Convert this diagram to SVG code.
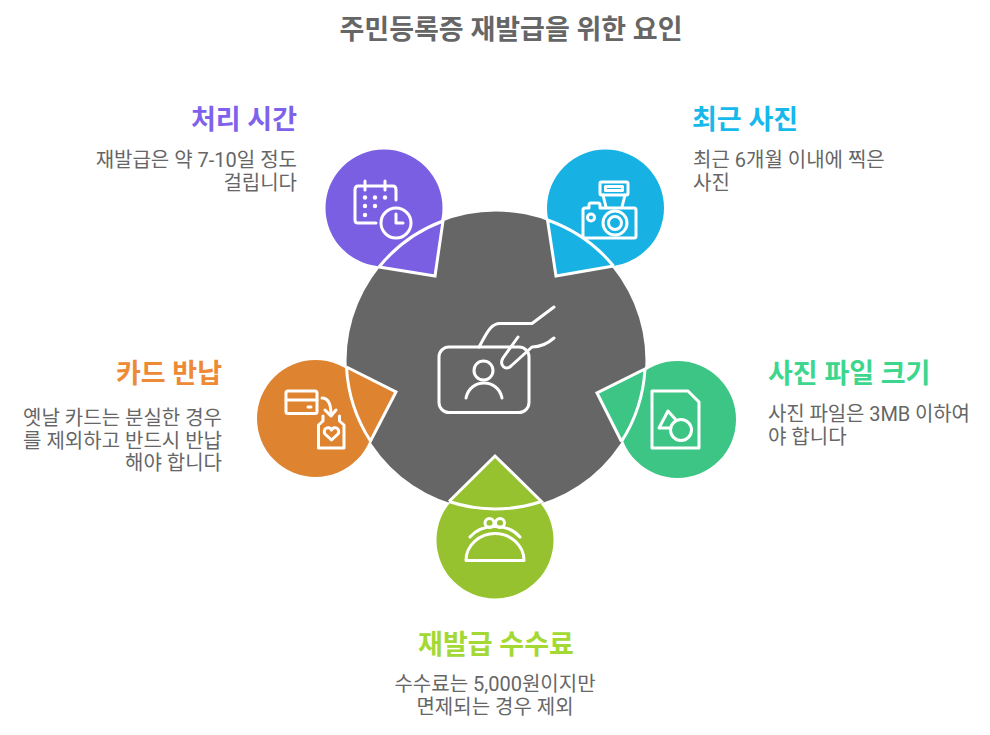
<svg xmlns="http://www.w3.org/2000/svg" width="990" height="735" viewBox="0 0 990 735">
<style>
text{font-family:"Roboto","Noto Sans CJK KR","Noto Sans",sans-serif}
.title{font-size:27px;font-weight:700;fill:#666}
.head{font-size:27px;font-weight:700}
.body{font-size:20px;fill:#666}
.s{text-anchor:start}.e{text-anchor:end}.m{text-anchor:middle}
.line{fill:none;stroke:#fff;stroke-width:3;stroke-linejoin:miter}
.ic{fill:none;stroke:#fff;stroke-width:3;stroke-linecap:round;stroke-linejoin:round}
.dot{fill:#fff}
</style>
<rect width="990" height="735" fill="#fff"/>
<text class="title m" x="511" y="39">주민등록증 재발급을 위한 요인</text>
<g id="center">
<circle cx="496" cy="361" r="149.500" fill="#666"/>
<g class="ic">
<rect x="439" y="347" width="90" height="65.500" rx="10"/>
<circle cx="483.500" cy="370.500" r="9.500"/>
<path d="M466 398C470 378 498 378 502 398"/>
<path d="M479 347C486 335 490 323.500 500 323.500H532L554 307"/>
<path d="M518 337L503 358C499 365 505 371 511 366L532 347C539 347 546 345 554 338"/>
</g>
</g>
<g id="node-time">
<circle cx="384" cy="208" r="58.500" fill="#7a5fe3"/>
<polygon points="443,221 435,277 379,267" fill="#7a5fe3"/>
<path class="line" d="M379 267L435 276L443 221A150 150 0 0 0 379 267"/>
<g class="ic">
<path d="M376 223H358Q355 223 355 220V190Q355 186 358 186H393Q396 186 396 190V200"/>
<path d="M365 181V190M385 181V190"/>
<circle cx="396" cy="223" r="15"/>
<path d="M396 214V223H403"/>
</g>
<g class="dot"><circle cx="365" cy="197.500" r="2.200"/><circle cx="375" cy="197.500" r="2.200"/><circle cx="385" cy="197.500" r="2.200"/><circle cx="365" cy="206" r="2.200"/><circle cx="375" cy="206" r="2.200"/><circle cx="365" cy="215" r="2.200"/></g>
<text class="head e" x="297" y="129" fill="#7e62ec">처리 시간</text>
<text class="body e" x="297" y="167">재발급은 약 7-10일 정도</text>
<text class="body e" x="297" y="190">걸립니다</text>
</g>
<g id="node-photo">
<circle cx="605.500" cy="208" r="58.500" fill="#17b1e4"/>
<polygon points="547.500,220 556,277 613.500,266" fill="#17b1e4"/>
<path class="line" d="M613.500 266L556 276L547.500 220A150 150 0 0 1 613.500 266"/>
<g class="ic">
<rect x="600" y="182" width="28" height="13" rx="1.500"/>
<rect x="605.500" y="186.500" width="17" height="4"/>
<path d="M603 195L606 207M625 195L622 207"/>
<path d="M584 238H634Q636 238 636 236V210Q636 208 634 208H600V205Q600 203 598 203H591Q589 203 589 205V208H585Q583 208 583 210V236Q583 238 584 238Z"/>
<circle cx="615" cy="223" r="12"/>
<circle cx="615" cy="223" r="6.500"/>
<circle cx="591" cy="217.500" r="3.500"/>
</g>
<text class="head s" x="692" y="129" fill="#17b8ec">최근 사진</text>
<text class="body s" x="693" y="167">최근 6개월 이내에 찍은</text>
<text class="body s" x="693" y="190">사진</text>
</g>
<g id="node-size">
<circle cx="677.500" cy="419.500" r="58.500" fill="#3dc585"/>
<polygon points="596,393 645,369 621.500,441.500" fill="#3dc585"/>
<path class="line" d="M621.500 441.500L597 393L645 369A150 150 0 0 1 621.500 441.500"/>
<g class="ic">
<path d="M652 391H688L699 402V448H652Z"/>
<path d="M671 428H659L668 411L676 420"/>
<circle cx="681" cy="430" r="10.500"/>
</g>
<text class="head s" x="768" y="383" fill="#3dd68d">사진 파일 크기</text>
<text class="body s" x="768" y="421" textLength="202" lengthAdjust="spacing">사진 파일은 3MB 이하여</text>
<text class="body s" x="768" y="444">야 합니다</text>
</g>
<g id="node-fee">
<circle cx="495" cy="540" r="58.500" fill="#96c22f"/>
<polygon points="495,455 449,501.500 541.500,501.500" fill="#96c22f"/>
<path class="line" d="M449 501.500L495 456L541.500 501.500A150 150 0 0 1 449 501.500"/>
<g class="ic">
<circle cx="489.500" cy="523" r="4.500"/>
<circle cx="500" cy="523" r="4.500"/>
<path d="M470 537C482 523 508 523 520 537"/>
<path d="M466 560.500H524C524 545 510 533.500 495 533.500C480 533.500 466 545 466 560.500Z"/>
</g>
<text class="head m" x="496" y="654" fill="#a3d932">재발급 수수료</text>
<text class="body m" x="495" y="691">수수료는 5,000원이지만</text>
<text class="body m" x="495" y="714">면제되는 경우 제외</text>
</g>
<g id="node-return">
<circle cx="315.500" cy="418.500" r="58.500" fill="#de8431"/>
<polygon points="397,392 346.500,367 370.500,441" fill="#de8431"/>
<path class="line" d="M346.500 367L396 392L370.500 441A150 150 0 0 1 346.500 367"/>
<g class="ic">
<rect x="286" y="391" width="31" height="22.500" rx="2"/>
<path d="M286 400H317"/>
<path d="M308 407H311"/>
<path d="M322 398C328 398 331 403 331 415"/>
<path d="M325 410L331 416L336 410"/>
<path d="M323 416V421L318.500 425V448H344V425L339.500 421V416"/>
<path d="M331.500 440L325 434C322 429 329 425 331.500 430C334 425 341 429 338 434Z"/>
</g>
<text class="head e" x="222" y="383" fill="#ee8a35">카드 반납</text>
<text class="body e" x="222" y="425">옛날 카드는 분실한 경우</text>
<text class="body e" x="222" y="448">를 제외하고 반드시 반납</text>
<text class="body e" x="222" y="470">해야 합니다</text>
</g>
<g id="connectors"></g>
</svg>
